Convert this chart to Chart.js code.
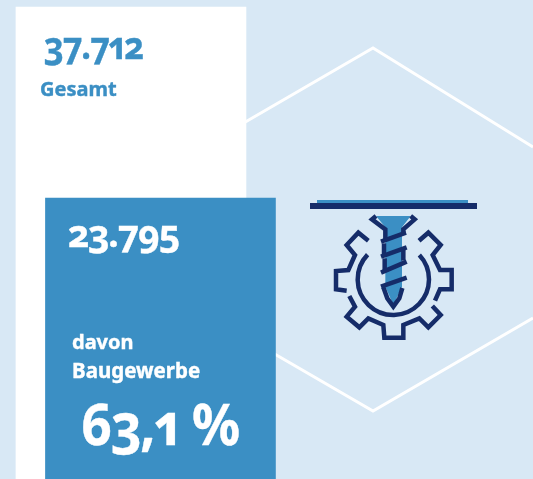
<!DOCTYPE html>
<html lang="de">
<head>
<meta charset="utf-8">
<title>Baugewerbe</title>
<script src="https://cdn.jsdelivr.net/npm/chart.js@4"></script>
<style>
  html, body { margin: 0; padding: 0; background: #d8e8f5; overflow: hidden; }
  #wrap { position: relative; width: 533px; height: 479px; overflow: hidden; }
  canvas { display: block; }
  .lbl {
    position: absolute; white-space: nowrap; line-height: 1;
    font-family: "Noto Sans", sans-serif; font-weight: 700;
    font-variant-numeric: oldstyle-nums proportional-nums;
    transform-origin: left top;
  }
  .white { color: #fff; -webkit-text-stroke: 0.4px #fff; }
  .blue { color: #3b8fc4; -webkit-text-stroke: 0.4px #3b8fc4; }
</style>
</head>
<body>
<div id="wrap">
  <canvas id="barChart" width="533" height="479"></canvas>
  <div class="lbl blue" id="totalValue" style="left:44px;top:25px;font-size:38px;letter-spacing:-1px;transform:scaleX(.91)"></div>
  <div class="lbl blue" id="totalLabel" style="left:40px;top:79px;font-size:20px"></div>
  <div class="lbl white" id="partValue" style="left:68px;top:213px;font-size:38px;letter-spacing:-1px;transform:scaleX(.98)"></div>
  <div class="lbl white" id="partLabel1" style="left:72px;top:332px;font-size:20px"></div>
  <div class="lbl white" id="partLabel2" style="left:72px;top:360px;font-size:20.5px"></div>
  <div class="lbl white" id="shareValue" style="left:81px;top:394px;font-size:58px;letter-spacing:-1px;transform:scaleX(.92)"></div>
</div>
<script>
const categories = ['Gesamt', 'davon Baugewerbe'];
const values = [37712, 23795];
const barColors = ['#ffffff', '#3b8fc4'];
const shareOfTotal = [63.1];

// the picture is cropped, the bars run out below the bottom edge
const axisMin = 3320;
const axisMax = 38222;

// hexagon and icon around the bars, plain decoration
const backdrop = {
  id: 'backdrop',
  beforeDatasetsDraw(chart) {
    const c = chart.ctx;
    c.save();
    c.strokeStyle = '#ffffff';
    c.lineWidth = 3;
    c.beginPath();
    c.moveTo(216, 139);
    c.lineTo(373, 48);
    c.lineTo(533, 147);
    c.moveTo(216, 320);
    c.lineTo(373, 411);
    c.lineTo(533, 318);
    c.stroke();
    c.restore();
  },
  afterDraw(chart) {
    const c = chart.ctx;
    const line = pts => {
      c.beginPath();
      pts.forEach((p, i) => {
        const x = 300 + p[0] / 3, y = 190 + p[1] / 3;
        if (i === 0) c.moveTo(x, y); else c.lineTo(x, y);
      });
    };
    c.save();
    c.fillStyle = '#3b8fc4';
    c.fillRect(317, 200, 151, 4);
    c.fillStyle = '#152c69';
    c.fillRect(310, 203, 167, 6);

    // screw body
    c.fillStyle = '#3b8fc4';
    line([[228, 78], [332, 78], [306, 112], [306, 290], [280, 345], [256, 290], [256, 112]]);
    c.closePath();
    c.fill();

    c.strokeStyle = '#152c69';
    c.lineWidth = 4.5;
    c.lineJoin = 'miter';
    line([[228, 78], [216, 88], [256, 118], [256, 152]]);
    c.stroke();
    line([[332, 78], [344, 88], [310, 118], [310, 135]]);
    c.stroke();
    line([[252, 160], [252, 192]]);
    c.stroke();
    line([[254, 205], [254, 242]]);
    c.stroke();
    line([[310, 178], [310, 212]]);
    c.stroke();
    line([[250, 292], [262, 325], [280, 350], [298, 325], [307, 294]]);
    c.stroke();
    [[[243, 155], [318, 128]], [[243, 200], [320, 172]], [[243, 248], [320, 215]], [[243, 290], [320, 263]]].forEach(t => {
      line(t);
      c.stroke();
    });

    // gear
    c.beginPath();
    c.arc(300 + 280 / 3, 190 + 268 / 3, 107 / 3, -0.75 * Math.PI - 0.02, -0.24 * Math.PI, true);
    c.stroke();
    line([[205, 152], [175, 128], [140, 165], [165, 195], [145, 240], [108, 243], [108, 298], [140, 302]]);
    c.stroke();
    line([[148, 318], [165, 350], [140, 380], [178, 412], [205, 385], [250, 405], [253, 443], [310, 443], [310, 405], [358, 385], [385, 412], [422, 375], [397, 348]]);
    c.stroke();
    line([[405, 332], [420, 298], [455, 298], [455, 240], [420, 240], [398, 195], [422, 165], [385, 128], [357, 152]]);
    c.stroke();
    c.restore();
  }
};

new Chart(document.getElementById('barChart'), {
  type: 'bar',
  data: {
    datasets: [{
      label: 'Anzahl',
      data: values.map((v, i) => ({ x: i, y: v })),
      backgroundColor: barColors,
      borderWidth: 0,
      barThickness: 230
    }]
  },
  options: {
    responsive: false,
    animation: false,
    layout: { padding: 0 },
    plugins: { legend: { display: false }, tooltip: { enabled: false } },
    scales: {
      x: { type: 'linear', display: false, offset: false, min: -4.44, max: 13.63 },
      y: { display: false, min: axisMin, max: axisMax }
    }
  },
  plugins: [backdrop]
});

const fmt = v => v.toLocaleString('de-DE');
document.getElementById('totalValue').textContent = fmt(values[0]);
document.getElementById('totalLabel').textContent = categories[0];
document.getElementById('partValue').textContent = fmt(values[1]);
document.getElementById('partLabel1').textContent = categories[1].split(' ')[0];
document.getElementById('partLabel2').textContent = categories[1].split(' ')[1];
document.getElementById('shareValue').textContent = shareOfTotal[0].toLocaleString('de-DE') + ' %';
</script>
</body>
</html>
